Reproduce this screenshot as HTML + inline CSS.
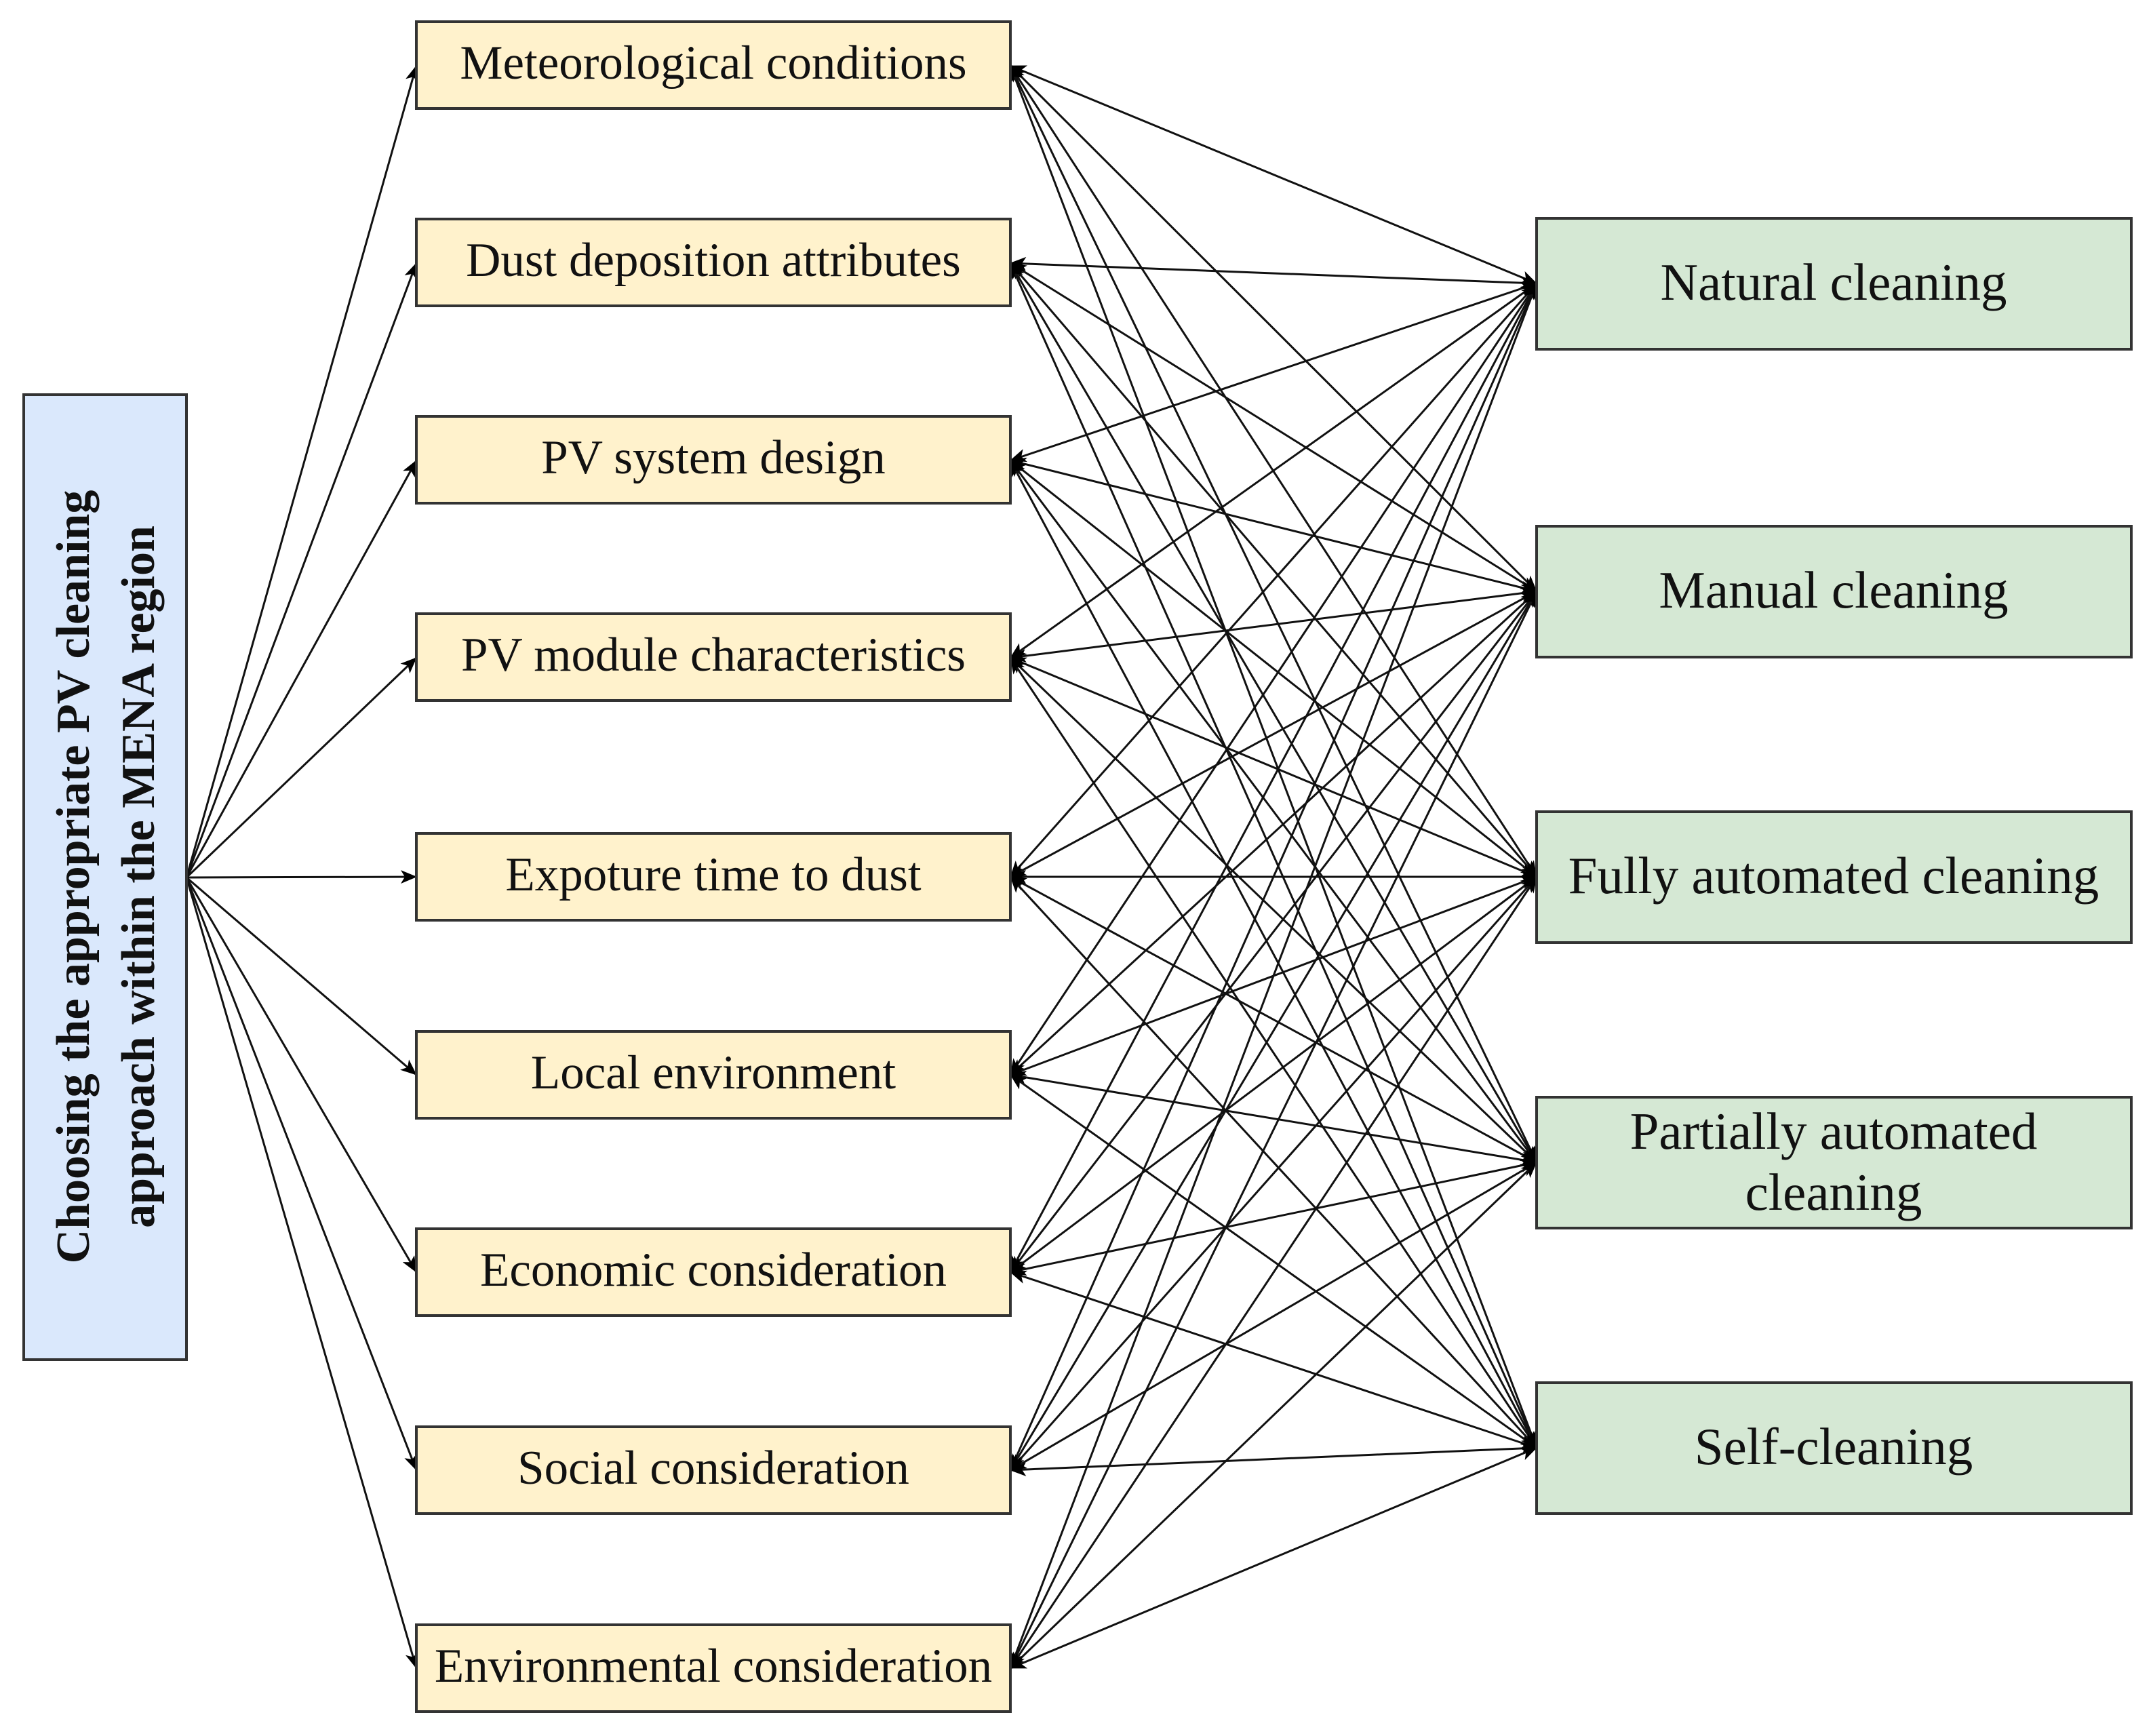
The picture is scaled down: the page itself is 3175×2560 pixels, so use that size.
<!DOCTYPE html>
<html><head><meta charset="utf-8"><style>
html,body{margin:0;padding:0;background:#fff;}
svg{display:block;}
text{font-family:"Liberation Serif",serif;fill:#111;}
</style></head><body>
<svg width="3175" height="2560" viewBox="0 0 3175 2560" xmlns="http://www.w3.org/2000/svg">
<defs>
<marker id="b" markerWidth="24" markerHeight="20" refX="23" refY="10" orient="auto-start-reverse" markerUnits="userSpaceOnUse" viewBox="0 0 24 20">
<path d="M0,0 L24,10 L0,20 L6,10 Z" fill="#000"/>
</marker>
</defs>
<g stroke="#111" stroke-width="3" fill="none" marker-end="url(#b)">
<line x1="275" y1="1294" x2="614" y2="97"/>
<line x1="275" y1="1294" x2="614" y2="388"/>
<line x1="275" y1="1294" x2="614" y2="679"/>
<line x1="275" y1="1294" x2="614" y2="970"/>
<line x1="275" y1="1294" x2="614" y2="1293"/>
<line x1="275" y1="1294" x2="614" y2="1585"/>
<line x1="275" y1="1294" x2="614" y2="1876"/>
<line x1="275" y1="1294" x2="614" y2="2168"/>
<line x1="275" y1="1294" x2="614" y2="2460"/>
</g>
<g stroke="#111" stroke-width="3" fill="none" marker-start="url(#b)" marker-end="url(#b)">
<line x1="2266" y1="418" x2="1490" y2="97"/><line x1="2266" y1="872" x2="1490" y2="97"/><line x1="2266" y1="1293" x2="1490" y2="97"/><line x1="2266" y1="1714" x2="1490" y2="97"/><line x1="2266" y1="2135" x2="1490" y2="97"/>
<line x1="2266" y1="418" x2="1490" y2="388"/><line x1="2266" y1="872" x2="1490" y2="388"/><line x1="2266" y1="1293" x2="1490" y2="388"/><line x1="2266" y1="1714" x2="1490" y2="388"/><line x1="2266" y1="2135" x2="1490" y2="388"/>
<line x1="2266" y1="418" x2="1490" y2="679"/><line x1="2266" y1="872" x2="1490" y2="679"/><line x1="2266" y1="1293" x2="1490" y2="679"/><line x1="2266" y1="1714" x2="1490" y2="679"/><line x1="2266" y1="2135" x2="1490" y2="679"/>
<line x1="2266" y1="418" x2="1490" y2="970"/><line x1="2266" y1="872" x2="1490" y2="970"/><line x1="2266" y1="1293" x2="1490" y2="970"/><line x1="2266" y1="1714" x2="1490" y2="970"/><line x1="2266" y1="2135" x2="1490" y2="970"/>
<line x1="2266" y1="418" x2="1490" y2="1293"/><line x1="2266" y1="872" x2="1490" y2="1293"/><line x1="2266" y1="1293" x2="1490" y2="1293"/><line x1="2266" y1="1714" x2="1490" y2="1293"/><line x1="2266" y1="2135" x2="1490" y2="1293"/>
<line x1="2266" y1="418" x2="1490" y2="1585"/><line x1="2266" y1="872" x2="1490" y2="1585"/><line x1="2266" y1="1293" x2="1490" y2="1585"/><line x1="2266" y1="1714" x2="1490" y2="1585"/><line x1="2266" y1="2135" x2="1490" y2="1585"/>
<line x1="2266" y1="418" x2="1490" y2="1876"/><line x1="2266" y1="872" x2="1490" y2="1876"/><line x1="2266" y1="1293" x2="1490" y2="1876"/><line x1="2266" y1="1714" x2="1490" y2="1876"/><line x1="2266" y1="2135" x2="1490" y2="1876"/>
<line x1="2266" y1="418" x2="1490" y2="2168"/><line x1="2266" y1="872" x2="1490" y2="2168"/><line x1="2266" y1="1293" x2="1490" y2="2168"/><line x1="2266" y1="1714" x2="1490" y2="2168"/><line x1="2266" y1="2135" x2="1490" y2="2168"/>
<line x1="2266" y1="418" x2="1490" y2="2460"/><line x1="2266" y1="872" x2="1490" y2="2460"/><line x1="2266" y1="1293" x2="1490" y2="2460"/><line x1="2266" y1="1714" x2="1490" y2="2460"/><line x1="2266" y1="2135" x2="1490" y2="2460"/>
</g>
<rect x="35" y="582" width="240" height="1423" fill="#dae8fc" stroke="#333" stroke-width="4"/>
<g transform="translate(155,1293) rotate(-90)" font-weight="bold" font-size="70" text-anchor="middle">
<text x="0" y="-24">Choosing the appropriate PV cleaning</text>
<text x="0" y="72">approach within the MENA region</text>
</g>
<g fill="#fff2cc" stroke="#333" stroke-width="4">
<rect x="614" y="32" width="876" height="128"/>
<rect x="614" y="323" width="876" height="128"/>
<rect x="614" y="614" width="876" height="128"/>
<rect x="614" y="905" width="876" height="128"/>
<rect x="614" y="1229" width="876" height="128"/>
<rect x="614" y="1521" width="876" height="128"/>
<rect x="614" y="1812" width="876" height="128"/>
<rect x="614" y="2104" width="876" height="128"/>
<rect x="614" y="2396" width="876" height="128"/>
</g>
<g font-size="71" text-anchor="middle">
<text x="1052" y="116">Meteorological conditions</text>
<text x="1052" y="407">Dust deposition attributes</text>
<text x="1052" y="698">PV system design</text>
<text x="1052" y="989">PV module characteristics</text>
<text x="1052" y="1313">Expoture time to dust</text>
<text x="1052" y="1605">Local environment</text>
<text x="1052" y="1896">Economic consideration</text>
<text x="1052" y="2188">Social consideration</text>
<text x="1052" y="2480">Environmental consideration</text>
</g>
<g fill="#d5e8d4" stroke="#333" stroke-width="4">
<rect x="2266" y="322" width="877" height="193"/>
<rect x="2266" y="776" width="877" height="193"/>
<rect x="2266" y="1197" width="877" height="193"/>
<rect x="2266" y="1618" width="877" height="193"/>
<rect x="2266" y="2039" width="877" height="193"/>
</g>
<g font-size="77" text-anchor="middle">
<text x="2704" y="442">Natural cleaning</text>
<text x="2704" y="896">Manual cleaning</text>
<text x="2704" y="1317">Fully automated cleaning</text>
<text x="2704" y="1694">Partially automated</text>
<text x="2704" y="1784">cleaning</text>
<text x="2704" y="2159">Self-cleaning</text>
</g>
</svg>
</body></html>
